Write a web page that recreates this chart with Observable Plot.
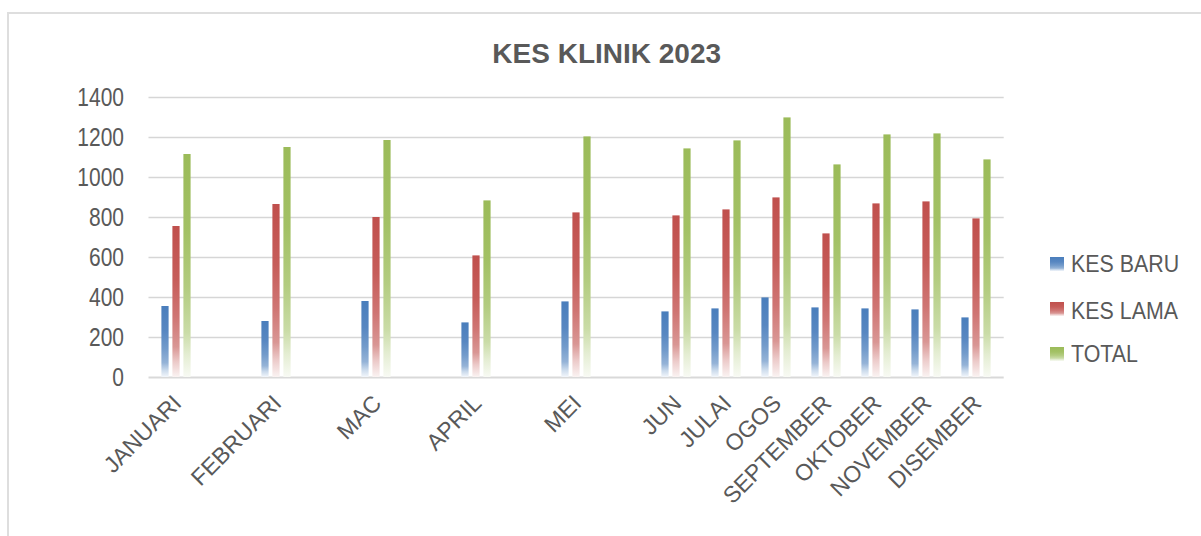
<!DOCTYPE html>
<html>
<head>
<meta charset="utf-8">
<script src="https://cdn.jsdelivr.net/npm/d3@7"></script>
<script src="https://cdn.jsdelivr.net/npm/@observablehq/plot@0.6"></script>
<style>
  html, body { margin: 0; padding: 0; background: #ffffff; }
  #wrap { position: relative; width: 1201px; height: 536px; overflow: hidden; font-family: "Liberation Sans", Arial, sans-serif; }
  #frame { position: absolute; left: 7px; top: 12px; width: 1220px; height: 560px; border-left: 2px solid #dedede; border-top: 2px solid #dedede; box-sizing: border-box; }
  #title { position: absolute; left: 406.7px; width: 400px; top: 39.6px; text-align: center; font-size: 28px; line-height: 28px; font-weight: bold; color: #595959; }
  #chart { position: absolute; left: 0; top: 0; }
  .lg { position: absolute; left: 1050px; height: 23px; font-size: 23px; line-height: 23px; color: #595959; white-space: nowrap; }
  .lg .sw { position: absolute; left: 0; width: 14px; height: 14px; }
  .lg .tx { position: absolute; left: 21px; top: 0; transform: scaleX(0.93); transform-origin: 0 0; }
</style>
</head>
<body>
<svg width="0" height="0" style="position:absolute">
  <defs>
    <linearGradient id="gBaru" x1="0" y1="0" x2="0" y2="1">
      <stop offset="0" stop-color="#4a7ebc"/>
      <stop offset="0.35" stop-color="#5887c1"/>
      <stop offset="0.6" stop-color="#739bcb"/>
      <stop offset="0.8" stop-color="#95b3d7"/>
      <stop offset="0.9" stop-color="#c9d9eb"/>
      <stop offset="1" stop-color="#f2f6fb"/>
    </linearGradient>
    <linearGradient id="gLama" x1="0" y1="0" x2="0" y2="1">
      <stop offset="0" stop-color="#c0504d"/>
      <stop offset="0.35" stop-color="#c65d5a"/>
      <stop offset="0.6" stop-color="#cf7573"/>
      <stop offset="0.8" stop-color="#d99694"/>
      <stop offset="0.9" stop-color="#eccac9"/>
      <stop offset="1" stop-color="#faf3f2"/>
    </linearGradient>
    <linearGradient id="gTotal" x1="0" y1="0" x2="0" y2="1">
      <stop offset="0" stop-color="#9bbb59"/>
      <stop offset="0.35" stop-color="#a3c165"/>
      <stop offset="0.6" stop-color="#b3cc80"/>
      <stop offset="0.8" stop-color="#cadca7"/>
      <stop offset="0.9" stop-color="#e4edd2"/>
      <stop offset="1" stop-color="#f8faf4"/>
    </linearGradient>
  </defs>
</svg>
<div id="wrap">
  <div id="frame"></div>
  <div id="chart"></div>
  <div id="title">KES KLINIK 2023</div>
  <div id="legend"></div>
</div>
<script>
// ---- data ----
const months = ["JANUARI", "FEBRUARI", "MAC", "APRIL", "MEI", "JUN", "JULAI", "OGOS", "SEPTEMBER", "OKTOBER", "NOVEMBER", "DISEMBER"];
const kesBaru = [355, 280, 380, 273, 378, 328, 343, 398, 348, 343, 338, 298];
const kesLama = [755, 865, 800, 608, 823, 808, 838, 898, 718, 868, 878, 793];
const total   = [1115, 1150, 1185, 883, 1203, 1143, 1183, 1298, 1063, 1213, 1218, 1088];
const yTicks = [0, 200, 400, 600, 800, 1000, 1200, 1400];
const seriesNames = ["KES BARU", "KES LAMA", "TOTAL"];

// Category axis slots: first five months are followed by an empty slot (as in the source axis)
const slots = [];
months.forEach((m, i) => { slots.push(m); if (i < 5) slots.push("\u200b" + i); });

const rows = months.map((m, i) => ({ month: m, baru: kesBaru[i], lama: kesLama[i], total: total[i] }));

const inset = 21.4;
const chart = Plot.plot({
  width: 1201,
  height: 536,
  marginLeft: 148.5,
  marginRight: 197.3,
  marginTop: 97,
  marginBottom: 159,
  x: { type: "band", domain: slots, padding: 0 },
  y: { domain: [0, 1400] },
  style: { fontFamily: "'Liberation Sans', Arial, sans-serif", color: "#595959", background: "transparent", overflow: "visible" },
  marks: [
    Plot.ruleY(yTicks.filter(t => t > 0), { stroke: "#d6d6d6", strokeWidth: 1.6 }),
    Plot.ruleY([0], { stroke: "#d9d9d9", strokeWidth: 2 }),
    Plot.barY(rows, { x: "month", y: "baru", fill: "url(#gBaru)", insetLeft: inset, insetRight: inset, dx: -11 }),
    Plot.barY(rows, { x: "month", y: "lama", fill: "url(#gLama)", insetLeft: inset, insetRight: inset, dx: 0 }),
    Plot.barY(rows, { x: "month", y: "total", fill: "url(#gTotal)", insetLeft: inset, insetRight: inset, dx: 11 }),
    Plot.axisY({ ticks: yTicks, tickFormat: d => String(d), tickSize: 0, tickPadding: 25, fontSize: 25, fill: "#595959", label: null }),
    Plot.axisX({ ticks: months, tickSize: 0, tickPadding: 22, tickRotate: -45, fontSize: 23, dx: 1, fill: "#595959", label: null })
  ]
});
document.getElementById("chart").appendChild(chart);

// narrow the y tick labels horizontally (the source font is condensed)
const yg = chart.querySelector('[aria-label="y-axis tick label"]');
if (yg) {
  yg.querySelectorAll("text").forEach(t => {
    const tr = t.getAttribute("transform") || "";
    const m = tr.match(/translate\(([^,\s]+)[,\s]+([^)]+)\)/);
    if (m) {
      t.setAttribute("transform", tr.replace(m[0], m[0] + " scale(0.84,1)"));
    } else {
      const x = +(t.getAttribute("x") || 0), y = +(t.getAttribute("y") || 0);
      t.setAttribute("transform", `translate(${x},${y}) scale(0.84,1) translate(${-x},${-y})`);
    }
  });
}

// legend
const legendTops = [253.2, 299.8, 342.5];
const swatchTops = [4, 2, 4.5];
const grads = ["gBaru", "gLama", "gTotal"];
const lg = document.getElementById("legend");
seriesNames.forEach((name, i) => {
  const item = document.createElement("div");
  item.className = "lg";
  item.style.top = legendTops[i] + "px";
  item.innerHTML = `<svg class="sw" style="top:${swatchTops[i]}px" width="14" height="14"><rect width="14" height="14" fill="url(#${grads[i]})"/></svg><span class="tx">${name}</span>`;
  lg.appendChild(item);
});
</script>
</body>
</html>
